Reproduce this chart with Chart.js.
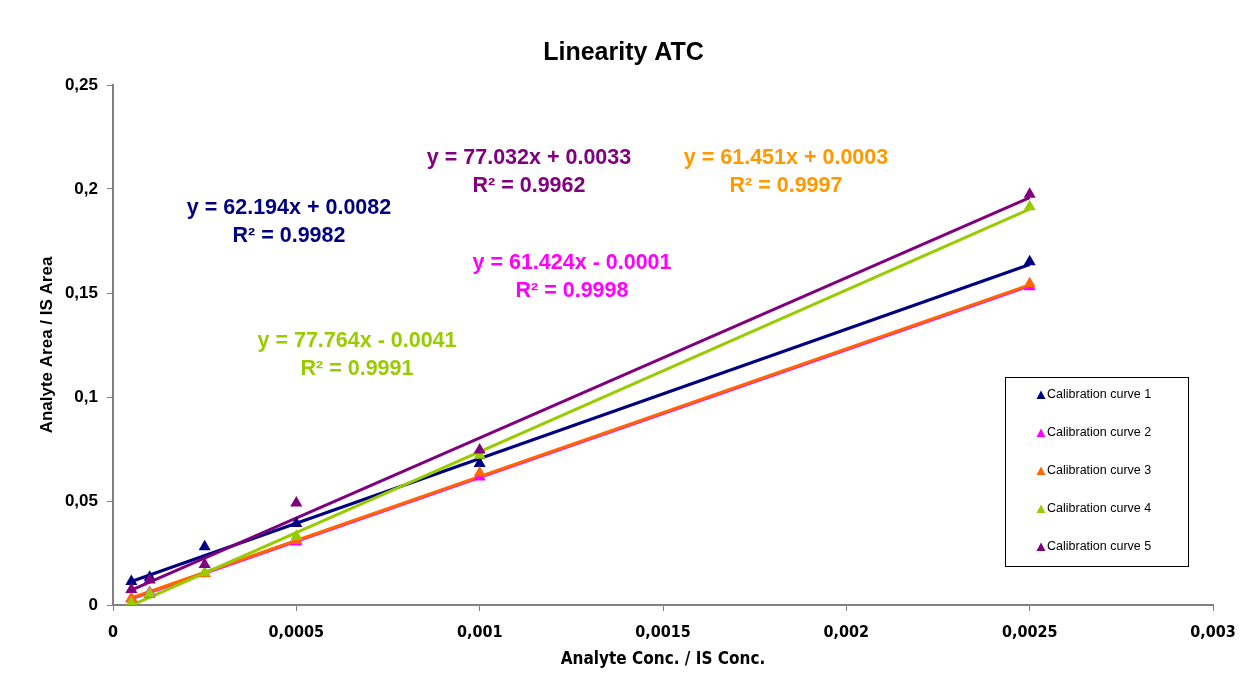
<!DOCTYPE html>
<html>
<head>
<meta charset="utf-8">
<title>Linearity ATC</title>
<script src="https://cdn.jsdelivr.net/npm/chart.js@4.4.1/dist/chart.umd.min.js"></script>
<style>
  body { margin: 0; background: #fff; }
  #wrap { width: 1240px; height: 673px; }
</style>
</head>
<body>
<div id="wrap"><canvas id="chartLinearity"></canvas></div>
<script>
/* Datos de calibracion */

const conc = [0.00005, 0.0001, 0.00025, 0.0005, 0.001, 0.0025];

const curve1 = [0.0113, 0.0133, 0.0280, 0.0392, 0.0680, 0.1650];
const curve2 = [0.0030, 0.0060, 0.0150, 0.0303, 0.0615, 0.1530];
const curve3 = [0.0030, 0.0050, 0.0152, 0.0310, 0.0635, 0.1545];
const curve4 = [0.0010, 0.0055, 0.0155, 0.0330, 0.0720, 0.1915];
const curve5 = [0.0075, 0.0120, 0.0195, 0.0490, 0.0745, 0.1975];

const seriesNames = ['Calibration curve 1', 'Calibration curve 2', 'Calibration curve 3', 'Calibration curve 4', 'Calibration curve 5'];
const slopes = [62.194, 61.424, 61.451, 77.764, 77.032];
const intercepts = [0.0082, -0.0001, 0.0003, -0.0041, 0.0033];
const r2 = ['0.9982', '0.9998', '0.9997', '0.9991', '0.9962'];

const xTicks = [0, 0.0005, 0.001, 0.0015, 0.002, 0.0025, 0.003];
const yTicks = [0, 0.05, 0.1, 0.15, 0.2, 0.25];

/* Colores */
const markerColors = ['#000080', '#FF00FF', '#FF6600', '#99CC00', '#800080'];
const labelColors = ['#000080', '#FF00FF', '#FF9900', '#99CC00', '#800080'];
// posicion de las ecuaciones (px del canvas)
const labelPos = [[289, 208], [572, 263], [786, 158], [357, 341], [529, 158]];

const allCurves = [curve1, curve2, curve3, curve4, curve5];

fmt = (v) => parseFloat(Number(v).toFixed(5)).toString().replace('.', ',');

let datasets = [];
// lineas de tendencia
for (let i in allCurves) {
    const x0 = conc[0], x1 = conc[conc.length - 1];
    datasets.push({
        label: 'trend' + i,
        data: [{ x: x0, y: slopes[i] * x0 + intercepts[i] }, { x: x1, y: slopes[i] * x1 + intercepts[i] }],
        showLine: true,
        borderColor: markerColors[i],
        borderWidth: 3,
        pointRadius: 0,
        order: 10 - i,
    });
}
// puntos
for (let i in allCurves) {
    datasets.push({
        label: seriesNames[i],
        data: conc.map((x, j) => ({ x: x, y: allCurves[i][j] })),
        pointStyle: 'triangle',
        pointRadius: 7,
        backgroundColor: markerColors[i],
        borderColor: markerColors[i],
        borderWidth: 0,
        showLine: false,
        order: 5 - i,
    });
}

const extras = {
    id: 'extras',
    afterDraw(chart) {
        const ctx = chart.ctx;
        ctx.save();
        // ecuaciones
        ctx.font = 'bold 21.5px "Liberation Sans", Arial, sans-serif';
        ctx.textAlign = 'center';
        ctx.textBaseline = 'middle';
        for (let i in labelPos) {
            ctx.fillStyle = labelColors[i];
            const sign = intercepts[i] < 0 ? ' - ' : ' + ';
            ctx.fillText('y = ' + slopes[i].toFixed(3) + 'x' + sign + Math.abs(intercepts[i]).toFixed(4), labelPos[i][0], labelPos[i][1]);
            ctx.fillText('R² = ' + r2[i], labelPos[i][0], labelPos[i][1] + 28);
        }
        // leyenda
        ctx.fillStyle = '#fff';
        ctx.fillRect(1005, 377, 183, 189);
        ctx.strokeStyle = '#000';
        ctx.lineWidth = 1;
        ctx.strokeRect(1005.5, 377.5, 183, 189);
        ctx.font = '12.5px "Liberation Sans", Arial, sans-serif';
        ctx.textAlign = 'left';
        for (let i in seriesNames) {
            const yy = 395 + i * 38;
            ctx.fillStyle = markerColors[i];
            ctx.beginPath();
            ctx.moveTo(1041, yy - 4.5);
            ctx.lineTo(1045.5, yy + 4);
            ctx.lineTo(1036.5, yy + 4);
            ctx.closePath();
            ctx.fill();
            ctx.fillStyle = '#000';
            ctx.fillText(seriesNames[i], 1047, yy);
        }
        ctx.restore();
    }
};

const cl = document.getElementById('chartLinearity');
const chartLinearity = new Chart(cl, {
    type: 'scatter',
    data: { datasets: datasets },
    options: {
        responsive: true,
        maintainAspectRatio: false,
        animation: false,
        layout: { padding: { left: 34, right: 27, top: 0, bottom: 0 } },
        scales: {
            x: {
                type: 'linear',
                min: 0,
                max: 0.003,
                afterBuildTicks: (s) => { s.ticks = xTicks.map(v => ({ value: v })); },
                afterFit: (s) => { s.height = 68; s.paddingLeft = 0; s.paddingRight = 0; },
                ticks: {
                    callback: (v) => fmt(v),
                    color: '#000',
                    padding: 12,
                    font: { family: '"Liberation Sans Narrow", "DejaVu Sans Condensed", Arial', size: 16, weight: 'bold' },
                },
                grid: { display: true, drawOnChartArea: false, tickLength: 6, color: '#808080' },
                border: { color: '#808080', width: 2 },
                title: {
                    display: true,
                    text: 'Analyte Conc. / IS Conc.',
                    color: '#000',
                    padding: { top: 0, bottom: 3 },
                    font: { family: '"Liberation Sans Narrow", "DejaVu Sans Condensed", Arial', size: 17, weight: 'bold' },
                },
            },
            y: {
                min: 0,
                max: 0.25,
                afterBuildTicks: (s) => { s.ticks = yTicks.map(v => ({ value: v })); },
                afterFit: (s) => { s.width = 79; s.paddingTop = 0; s.paddingBottom = 0; },
                ticks: {
                    callback: (v) => fmt(v),
                    color: '#000',
                    padding: 9,
                    font: { family: '"Liberation Sans", Arial', size: 17, weight: 'bold' },
                },
                grid: { display: true, drawOnChartArea: false, tickLength: 6, color: '#808080' },
                border: { color: '#808080', width: 2 },
                title: {
                    display: true,
                    text: 'Analyte Area / IS Area',
                    color: '#000',
                    padding: { top: 3, bottom: 0 },
                    font: { family: '"Liberation Sans", Arial', size: 17, weight: 'bold' },
                },
            },
        },
        plugins: {
            legend: { display: false },
            tooltip: { enabled: false },
            title: {
                display: true,
                text: 'Linearity ATC',
                color: '#000',
                padding: { top: 38, bottom: 17 },
                font: { family: '"Liberation Sans", Arial', size: 25, weight: 'bold' },
            },
        },
    },
    plugins: [extras],
});
</script>
</body>
</html>
